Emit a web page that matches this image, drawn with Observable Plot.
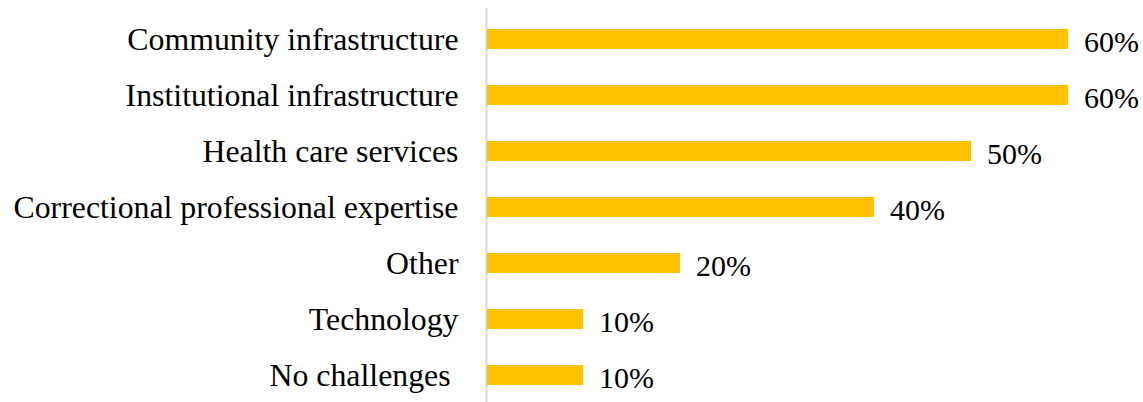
<!DOCTYPE html>
<html>
<head>
<meta charset="utf-8">
<script src="https://cdn.jsdelivr.net/npm/d3@7"></script>
<script src="https://cdn.jsdelivr.net/npm/@observablehq/plot@0.6"></script>
<style>
  html, body { margin: 0; padding: 0; background: #fff; }
</style>
</head>
<body>
<div id="chart"></div>
<script>
const categories = [
  "Community infrastructure",
  "Institutional infrastructure",
  "Health care services",
  "Correctional professional expertise",
  "Other",
  "Technology",
  "No challenges\u00a0"
];
const values = [60, 60, 50, 40, 20, 10, 10];
const valueLabels = ["60%", "60%", "50%", "40%", "20%", "10%", "10%"];

const data = categories.map((c, i) => ({category: c, value: values[i], label: valueLabels[i]}));

const chart = Plot.plot({
  width: 1143,
  height: 402,
  marginLeft: 486,
  marginRight: 75,
  marginTop: 8,
  marginBottom: 0,
  style: {fontFamily: "'Liberation Serif', 'Times New Roman', serif", fontSize: "30px", color: "#000", background: "#fff"},
  x: {domain: [0, 60], axis: null},
  y: {domain: categories, range: [8.73, 404.5], paddingInner: 0.646, paddingOuter: 0.323, label: null},
  marks: [
    Plot.ruleX([0], {stroke: "#d9d9d9", strokeWidth: 2}),
    Plot.barX(data, {x: "value", y: "category", fill: "#FFC000", insetLeft: 1}),
    Plot.text(data, {x: "value", y: "category", text: "label", textAnchor: "start", dx: 15.5, dy: 2.5, fontSize: 30, fill: "#000"}),
    Plot.axisY({tickSize: 0, tickPadding: 28, fontSize: 31.8, dy: 0.4, fill: "#000", label: null})
  ]
});
document.getElementById("chart").appendChild(chart);
</script>
</body>
</html>
